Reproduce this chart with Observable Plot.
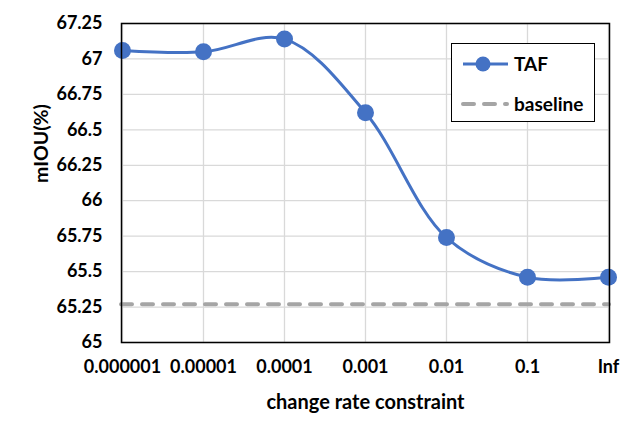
<!DOCTYPE html>
<html>
<head>
<meta charset="utf-8">
<script src="https://cdn.jsdelivr.net/npm/d3@7"></script>
<script src="https://cdn.jsdelivr.net/npm/@observablehq/plot@0.6"></script>
<style>
  html, body { margin: 0; padding: 0; background: #fff; }
  #wrap { position: relative; width: 642px; height: 446px; font-family: Lato, "Open Sans", sans-serif; }
  #legend { position: absolute; left: 451px; top: 43px; width: 144px; height: 79px; border: 1.5px solid #000; background: #fff; box-sizing: border-box; }
  .row { position: absolute; left: 0; display: flex; align-items: center; font-weight: 700; font-size: 19px; color: #000; }
  .row svg { display: block; }
</style>
</head>
<body>
<div id="wrap"></div>
<script>
const xLabels = ["0.000001", "0.00001", "0.0001", "0.001", "0.01", "0.1", "Inf"];
const tafValues = [67.06, 67.05, 67.14, 66.62, 65.74, 65.46, 65.46];
const baselineValue = [65.27];
const yTicks = [65, 65.25, 65.5, 65.75, 66, 66.25, 66.5, 66.75, 67, 67.25];
const seriesNames = ["TAF", "baseline"];

const data = xLabels.map((x, i) => ({x, y: tafValues[i]}));
const blue = "#4472C4";
const gray = "#A5A5A5";

const chart = Plot.plot({
  width: 642,
  height: 446,
  marginLeft: 121,
  marginRight: 33,
  marginTop: 23,
  marginBottom: 104,
  style: {fontFamily: "Lato, 'Open Sans', sans-serif", fontWeight: 700, fontSize: "18px", color: "#000", background: "#fff"},
  x: {type: "point", domain: xLabels, padding: 0},
  y: {domain: [65, 67.25]},
  marks: [
    Plot.gridX(xLabels, {stroke: "#d9d9d9", strokeOpacity: 1, strokeWidth: 1.3}),
    Plot.gridY(yTicks, {stroke: "#d9d9d9", strokeOpacity: 1, strokeWidth: 1.3}),
    Plot.axisX({tickSize: 0, tickPadding: 18, label: null, fontSize: 18, fontWeight: 700}),
    Plot.axisY({ticks: yTicks, tickFormat: d => String(+d.toFixed(2)), tickSize: 0, tickPadding: 19, label: null, fontSize: 18, fontWeight: 700}),
    Plot.ruleY(baselineValue, {stroke: gray, strokeWidth: 4, strokeDasharray: "11,10", strokeLinecap: "round"}),
    Plot.line(data, {x: "x", y: "y", curve: "catmull-rom", stroke: blue, strokeWidth: 3}),
    Plot.dot(data, {x: "x", y: "y", r: 8.5, fill: blue, stroke: "none"}),
    Plot.frame({stroke: "#000", strokeWidth: 1.5}),
    Plot.text(["mIOU(%)"], {frameAnchor: "left", dx: -80, rotate: -90, fontSize: 19.5, fontWeight: 700, fill: "#000"}),
    Plot.text(["change rate constraint"], {frameAnchor: "bottom", dy: 66, fontSize: 20, fontWeight: 700, fill: "#000"})
  ]
});

const wrap = document.getElementById("wrap");
wrap.appendChild(chart);

const legend = document.createElement("div");
legend.id = "legend";
legend.innerHTML = `
  <div class="row" style="top:8px;left:9px;">
    <svg width="50" height="22"><line x1="2" y1="11" x2="47" y2="11" stroke="${blue}" stroke-width="3"/><circle cx="22" cy="11" r="7.5" fill="${blue}"/></svg>
    <span style="margin-left:3px">${seriesNames[0]}</span>
  </div>
  <div class="row" style="top:48px;left:9px;">
    <svg width="50" height="22"><line x1="2" y1="11" x2="46" y2="11" stroke="${gray}" stroke-width="4" stroke-dasharray="11,10" stroke-linecap="round"/></svg>
    <span style="margin-left:3px">${seriesNames[1]}</span>
  </div>`;
wrap.appendChild(legend);
</script>
</body>
</html>
